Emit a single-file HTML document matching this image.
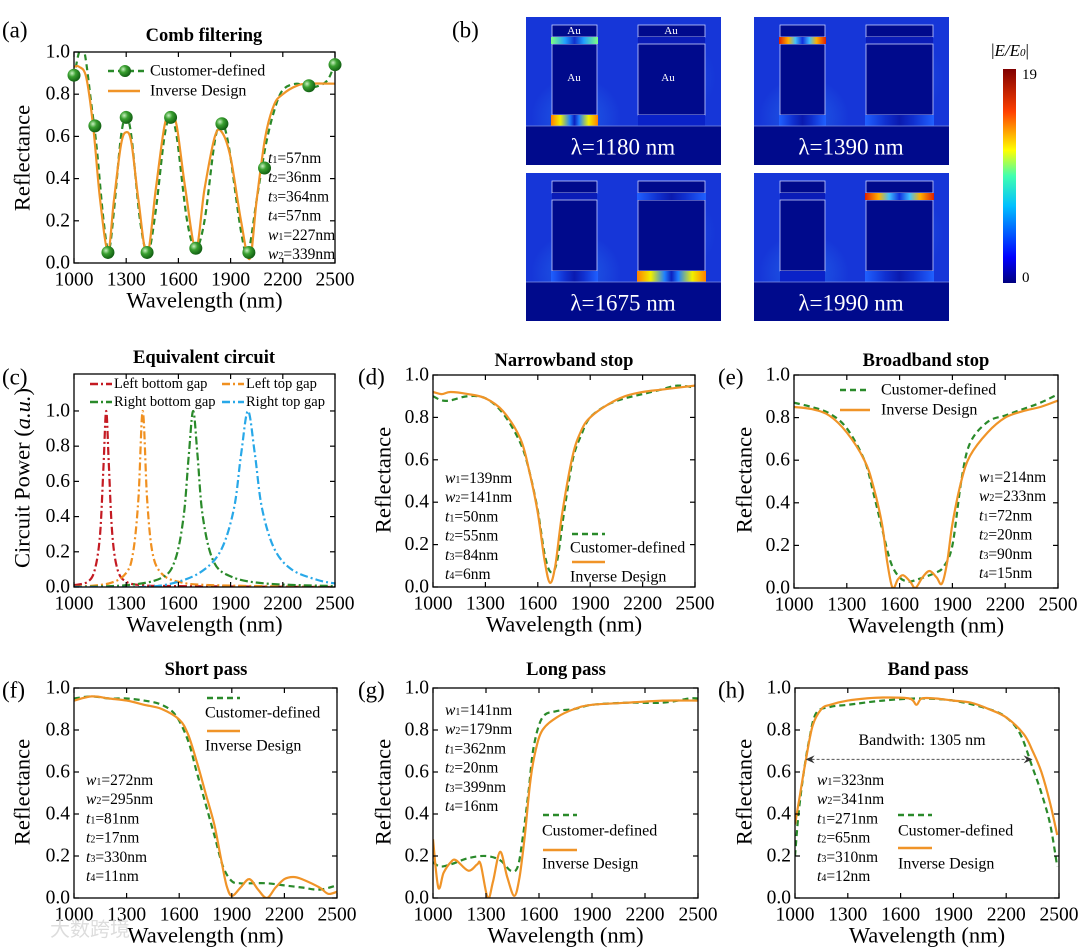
<!DOCTYPE html>
<html><head><meta charset="utf-8"><style>
html,body{margin:0;padding:0;background:#fff;}
svg{display:block;font-family:"Liberation Serif",serif;}
</style></head><body>
<svg id="fig" width="1080" height="948" viewBox="0 0 1080 948" xmlns="http://www.w3.org/2000/svg">
<defs>
<linearGradient id="jet" x1="0" y1="1" x2="0" y2="0">
<stop offset="0" stop-color="#00007f"/><stop offset="0.12" stop-color="#0000ff"/><stop offset="0.36" stop-color="#00c0ff"/><stop offset="0.5" stop-color="#40ffb0"/><stop offset="0.62" stop-color="#ffff00"/><stop offset="0.8" stop-color="#ff4000"/><stop offset="1" stop-color="#800000"/></linearGradient>
<linearGradient id="hotR" x1="0" x2="1"><stop offset="0" stop-color="#e02000"/><stop offset="0.2" stop-color="#ffb000"/><stop offset="0.35" stop-color="#40c0ff"/><stop offset="0.5" stop-color="#1030e0"/><stop offset="0.65" stop-color="#40c0ff"/><stop offset="0.8" stop-color="#ffb000"/><stop offset="1" stop-color="#e02000"/></linearGradient>
<linearGradient id="hotY" x1="0" x2="1"><stop offset="0" stop-color="#ff8000"/><stop offset="0.2" stop-color="#f0f000"/><stop offset="0.4" stop-color="#2080ff"/><stop offset="0.5" stop-color="#0a20c0"/><stop offset="0.6" stop-color="#2080ff"/><stop offset="0.8" stop-color="#f0f000"/><stop offset="1" stop-color="#ff8000"/></linearGradient>
<linearGradient id="hotC" x1="0" x2="1"><stop offset="0" stop-color="#80ff80"/><stop offset="0.3" stop-color="#20a0ff"/><stop offset="0.5" stop-color="#1030d0"/><stop offset="0.7" stop-color="#20a0ff"/><stop offset="1" stop-color="#80ff80"/></linearGradient>
<linearGradient id="weak" x1="0" x2="1"><stop offset="0" stop-color="#2060ff"/><stop offset="0.3" stop-color="#1030d0"/><stop offset="0.5" stop-color="#0a1ab0"/><stop offset="0.7" stop-color="#1030d0"/><stop offset="1" stop-color="#2060ff"/></linearGradient>
<radialGradient id="ball" cx="0.35" cy="0.35" r="0.7"><stop offset="0" stop-color="#c8f0c0"/><stop offset="0.4" stop-color="#3aa030"/><stop offset="1" stop-color="#0e5a10"/></radialGradient>
<radialGradient id="glow" cx="0.5" cy="0.5" r="0.5"><stop offset="0" stop-color="#30a0ff" stop-opacity="0.8"/><stop offset="1" stop-color="#30a0ff" stop-opacity="0"/></radialGradient>
</defs>
<g id="layer"></g>
</svg>
<script>
// ---------- Data ----------
const xTicks = [1000,1300,1600,1900,2200,2500];
const yTicks = [0,0.2,0.4,0.6,0.8,1.0];
const yTickLabels = ["0.0","0.2","0.4","0.6","0.8","1.0"];

const aInvX = [1000,1030,1070,1110,1150,1195,1230,1270,1300,1330,1370,1420,1470,1520,1555,1590,1640,1700,1750,1810,1850,1900,1960,2010,2050,2100,2150,2200,2280,2350,2500];
const aInvY = [0.93,0.93,0.88,0.65,0.3,0.06,0.3,0.56,0.62,0.57,0.3,0.04,0.35,0.65,0.71,0.65,0.35,0.07,0.35,0.6,0.62,0.5,0.2,0.02,0.3,0.6,0.75,0.8,0.84,0.85,0.85];
const aCusX = [1000,1030,1060,1100,1130,1170,1200,1230,1270,1300,1330,1380,1425,1470,1520,1555,1590,1650,1700,1750,1810,1850,1890,1960,2000,2050,2100,2150,2200,2280,2350,2450,2500];
const aCusY = [0.88,1.0,1.0,0.75,0.55,0.2,0.06,0.25,0.6,0.69,0.6,0.2,0.05,0.25,0.6,0.69,0.6,0.2,0.07,0.2,0.58,0.66,0.55,0.15,0.05,0.3,0.55,0.72,0.82,0.85,0.83,0.86,0.95];
const aMarkX = [1000,1120,1195,1300,1420,1555,1700,1850,2005,2095,2350,2500];
const aMarkY = [0.89,0.65,0.05,0.69,0.05,0.69,0.07,0.66,0.05,0.45,0.84,0.94];

const cRedX = [1000,1080,1120,1150,1170,1185,1200,1220,1250,1300,1400,1600,2500];
const cRedY = [0.01,0.03,0.1,0.3,0.7,1.0,0.7,0.3,0.1,0.03,0.01,0.005,0.0];
const cOrgX = [1000,1200,1300,1340,1370,1395,1420,1450,1500,1600,1800,2500];
const cOrgY = [0.0,0.02,0.08,0.2,0.5,1.0,0.5,0.2,0.08,0.03,0.01,0.0];
const cGrnX = [1000,1300,1500,1580,1630,1660,1685,1710,1740,1800,1900,2100,2500];
const cGrnY = [0.0,0.01,0.05,0.15,0.4,0.75,1.0,0.75,0.4,0.15,0.06,0.02,0.005];
const cBluX = [1000,1400,1600,1750,1850,1920,1960,2000,2040,2080,2150,2250,2400,2500];
const cBluY = [0.0,0.0,0.03,0.1,0.22,0.45,0.75,1.0,0.75,0.45,0.22,0.1,0.04,0.02];

const dInvX = [1000,1050,1100,1200,1300,1400,1500,1550,1600,1640,1670,1700,1740,1800,1850,1900,2000,2100,2200,2300,2400,2500];
const dInvY = [0.92,0.91,0.92,0.91,0.89,0.83,0.7,0.55,0.35,0.12,0.02,0.1,0.35,0.62,0.74,0.8,0.86,0.9,0.92,0.93,0.94,0.95];
const dCusX = [1000,1050,1100,1200,1300,1400,1500,1550,1600,1640,1675,1710,1750,1800,1850,1900,2000,2100,2200,2300,2400,2500];
const dCusY = [0.9,0.88,0.88,0.9,0.89,0.82,0.68,0.55,0.36,0.15,0.07,0.12,0.35,0.6,0.72,0.8,0.86,0.89,0.91,0.93,0.95,0.94];

const eInvX = [1000,1100,1200,1300,1400,1450,1500,1530,1560,1590,1620,1660,1690,1730,1770,1810,1840,1870,1900,1950,2000,2100,2200,2300,2400,2500];
const eInvY = [0.85,0.84,0.81,0.73,0.6,0.48,0.3,0.12,0.0,0.04,0.06,0.03,0.0,0.05,0.08,0.05,0.02,0.12,0.3,0.5,0.62,0.73,0.8,0.83,0.85,0.88];
const eCusX = [1000,1100,1200,1300,1400,1450,1500,1550,1600,1650,1700,1800,1850,1900,1950,2000,2100,2200,2300,2400,2500];
const eCusY = [0.87,0.85,0.82,0.75,0.6,0.45,0.28,0.12,0.05,0.03,0.04,0.07,0.1,0.2,0.5,0.68,0.78,0.81,0.84,0.87,0.91];

const fInvX = [1000,1100,1200,1300,1400,1500,1600,1650,1700,1750,1800,1840,1870,1900,1950,2000,2050,2100,2150,2200,2250,2300,2400,2450,2500];
const fInvY = [0.94,0.96,0.95,0.94,0.92,0.9,0.85,0.78,0.65,0.5,0.35,0.18,0.06,0.01,0.05,0.09,0.04,0.0,0.05,0.09,0.1,0.09,0.05,0.02,0.03];
const fCusX = [1000,1100,1200,1300,1400,1500,1580,1650,1700,1750,1800,1850,1900,1950,2000,2100,2200,2300,2400,2500];
const fCusY = [0.95,0.96,0.95,0.95,0.94,0.92,0.87,0.75,0.6,0.45,0.3,0.15,0.08,0.07,0.07,0.07,0.06,0.05,0.04,0.06];

const gInvX = [1000,1030,1060,1100,1130,1200,1250,1270,1310,1340,1380,1420,1460,1490,1520,1550,1580,1620,1700,1800,1900,2100,2300,2500];
const gInvY = [0.28,0.05,0.12,0.17,0.18,0.13,0.16,0.16,0.0,0.08,0.22,0.1,0.01,0.1,0.3,0.55,0.7,0.8,0.86,0.9,0.92,0.93,0.94,0.94];
const gCusX = [1000,1040,1100,1200,1300,1380,1440,1480,1510,1540,1570,1620,1700,1800,1900,2100,2300,2450,2500];
const gCusY = [0.17,0.15,0.16,0.19,0.2,0.18,0.13,0.15,0.3,0.5,0.72,0.86,0.89,0.9,0.92,0.93,0.93,0.95,0.95];

const hInvX = [1000,1030,1060,1100,1150,1200,1300,1400,1500,1650,1690,1720,1800,1900,2000,2100,2200,2300,2350,2400,2450,2490];
const hInvY = [0.35,0.5,0.65,0.82,0.9,0.92,0.94,0.95,0.955,0.95,0.92,0.95,0.95,0.94,0.93,0.9,0.86,0.78,0.7,0.6,0.45,0.3];
const hCusX = [1000,1020,1050,1080,1120,1200,1300,1500,1700,1900,2100,2200,2280,2350,2400,2450,2490];
const hCusY = [0.2,0.4,0.6,0.75,0.88,0.91,0.92,0.94,0.95,0.94,0.9,0.86,0.78,0.62,0.5,0.35,0.15];
const hBandX = [1060,2350];
const hBandY = 0.66;

const cbTicks = ["0","19"];

// ---------- Helpers ----------
const NS = "http://www.w3.org/2000/svg";
const root = document.getElementById('layer');
function mk(tag, attrs, parent){
  const e = document.createElementNS(NS, tag);
  for (const k in attrs) e.setAttribute(k, attrs[k]);
  (parent||root).appendChild(e);
  return e;
}
function txt(s, x, y, size, opts, parent){
  opts = opts||{};
  const t = mk('text', {x:x, y:y, 'font-size':size, fill:opts.fill||'#000', 'text-anchor':opts.anchor||'start', 'dominant-baseline':'central'}, parent);
  if (opts.weight) t.setAttribute('font-weight', opts.weight);
  if (opts.rot) t.setAttribute('transform', 'rotate(-90 '+x+' '+y+')');
  t.textContent = s;
  return t;
}
function spline(pts){
  let d = 'M'+pts[0][0].toFixed(1)+','+pts[0][1].toFixed(1);
  for (let i=0;i<pts.length-1;i++){
    const p0=pts[Math.max(0,i-1)], p1=pts[i], p2=pts[i+1], p3=pts[Math.min(pts.length-1,i+2)];
    const c1x=p1[0]+(p2[0]-p0[0])/6, c1y=p1[1]+(p2[1]-p0[1])/6;
    const c2x=p2[0]-(p3[0]-p1[0])/6, c2y=p2[1]-(p3[1]-p1[1])/6;
    d += ' C'+c1x.toFixed(1)+','+c1y.toFixed(1)+' '+c2x.toFixed(1)+','+c2y.toFixed(1)+' '+p2[0].toFixed(1)+','+p2[1].toFixed(1);
  }
  return d;
}
function makeAxes(name, x0, x1, yt, yb, ymax){
  const g = mk('g', {});
  
  
  const sx = v => x0 + (v-1000)/1500*(x1-x0);
  const sy = v => yb - v/ymax*(yb-yt);
  const clip = 'clip-'+name;
  const cp = mk('clipPath', {id:clip}, g);
  mk('rect', {x:x0, y:yt, width:x1-x0, height:yb-yt}, cp);
  const plot = mk('g', {'clip-path':'url(#'+clip+')'}, g);
  
  
  const frame = mk('rect', {x:x0, y:yt, width:x1-x0, height:yb-yt, fill:'none', stroke:'#000', 'stroke-width':1.3}, g);
  
  
  xTicks.forEach(v=>{
    const x = sx(v);
    mk('line', {x1:x, x2:x, y1:yb, y2:yb-5, stroke:'#000', 'stroke-width':1.2}, g);
    mk('line', {x1:x, x2:x, y1:yt, y2:yt+5, stroke:'#000', 'stroke-width':1.2}, g);
    const t = txt(String(v), x, yb+17, 19.5, {anchor:'middle'}, g);
    
    
  });
  yTicks.forEach((v,i)=>{
    const y = sy(v);
    mk('line', {x1:x0, x2:x0+5, y1:y, y2:y, stroke:'#000', 'stroke-width':1.2}, g);
    mk('line', {x1:x1, x2:x1-5, y1:y, y2:y, stroke:'#000', 'stroke-width':1.2}, g);
    const t = txt(yTickLabels[i], x0-4, y, 19.5, {anchor:'end'}, g);
    
    
  });
  const xt = txt('Wavelength (nm)', (x0+x1)/2, yb+37, 22.5, {anchor:'middle'}, g);
  
  
  return {g, plot, sx, sy, x0, x1, yt, yb};
}
function series(ax, xs, ys, style, name){
  const pts = xs.map((v,i)=>[ax.sx(v), ax.sy(ys[i])]);
  const p = mk('path', {d:spline(pts), fill:'none', stroke:style.color, 'stroke-width':style.w||2.2, 'stroke-linejoin':'round'}, ax.plot);
  if (style.dash) p.setAttribute('stroke-dasharray', style.dash);
  
  
  return p;
}
const GREEN = '#2a8a2a', ORANGE = '#f09428';
function legendLine(x1, x2, y, color, dash, name){
  const l = mk('line', {x1:x1, x2:x2, y1:y, y2:y, stroke:color, 'stroke-width':2.4});
  if (dash) l.setAttribute('stroke-dasharray', dash);
  
  
}
function label(s, x, y, size, opts, name){
  const t = txt(s, x, y, size, opts);
  
  
  return t;
}
function params(list, x, y0, step){
  list.forEach((p,i)=>{
    const t = mk('text', {x:x, y:y0+i*step, 'font-size':15.5, 'dominant-baseline':'central'});
    
    
    const a = mk('tspan', {'font-style':'italic'}, t); a.textContent = p[0];
    const b = mk('tspan', {'font-size':10, dy:2}, t); b.textContent = p[1];
    const c = mk('tspan', {dy:-2}, t); c.textContent = '='+p[2];
  });
}
function ylabel(s, x, y, name){ return label(s, x, y, 22.5, {anchor:'middle', rot:true}, name); }

// ---------- Panel (a) ----------
label('(a)', 2, 30, 23, {}, 'panel-label-a');
label('Comb filtering', 204, 36, 18.5, {anchor:'middle', weight:'bold'}, 'title-comb-filtering');
const A = makeAxes('chart-a', 74, 335, 52, 263, 1.0);
ylabel('Reflectance', 22, 158, 'y-axis-title-a');
series(A, aCusX, aCusY, {color:GREEN, dash:'6,4', w:2.2}, 'series-a-customer');
series(A, aInvX, aInvY, {color:ORANGE, w:2.2}, 'series-a-inverse');
aMarkX.forEach((v,i)=>{
  const c = mk('circle', {cx:A.sx(v), cy:A.sy(aMarkY[i]), r:6.5, fill:'url(#ball)'});
  
  
});
legendLine(108, 148, 71, GREEN, '6,4', 'legend-line-customer-a');
{ const c = mk('circle', {cx:125, cy:71, r:6, fill:'url(#ball)'});   }
label('Customer-defined', 150, 71, 16, {}, 'legend-text-customer-a');
legendLine(108, 140, 91, ORANGE, null, 'legend-line-inverse-a');
label('Inverse Design', 150, 91, 16, {}, 'legend-text-inverse-a');
params([['t','1','57nm'],['t','2','36nm'],['t','3','364nm'],['t','4','57nm'],['w','1','227nm'],['w','2','339nm']], 268, 158, 19.2);

// ---------- Panel (b) heatmaps ----------
label('(b)', 452, 30, 23, {}, 'panel-label-b');
const maps = [
  {x:526, y:17, lab:'λ=1180 nm', hot:[[0,'bot','hotY'],[0,'top','hotC']]},
  {x:754, y:17, lab:'λ=1390 nm', hot:[[0,'top','hotR'],[0,'bot','weak'],[1,'bot','weak']]},
  {x:526, y:173, lab:'λ=1675 nm', hot:[[1,'bot','hotY'],[0,'bot','weak'],[1,'top','weak']]},
  {x:754, y:173, lab:'λ=1990 nm', hot:[[1,'top','hotR'],[1,'bot','weak']]}
];
maps.forEach((m,k)=>{
  const g = mk('g', {});
  
  
  mk('rect', {x:m.x, y:m.y, width:195, height:148, fill:'#1636d8'}, g);
  mk('ellipse', {cx:m.x+50, cy:m.y+100, rx:45, ry:40, fill:'url(#glow)', opacity:0.5}, g);
  mk('ellipse', {cx:m.x+150, cy:m.y+60, rx:40, ry:40, fill:'url(#glow)', opacity:0.3}, g);
  const pill = [[m.x+26, 45],[m.x+112, 67]];
  pill.forEach((p,i)=>{
    mk('rect', {x:p[0], y:m.y+8, width:p[1], height:12, fill:'#000a8c', stroke:'#c8d0ff', 'stroke-width':0.8}, g);
    mk('rect', {x:p[0], y:m.y+20, width:p[1], height:7, fill:'#0a1cb8'}, g);
    mk('rect', {x:p[0], y:m.y+27, width:p[1], height:71, fill:'#000a8c', stroke:'#c8d0ff', 'stroke-width':0.8}, g);
    mk('rect', {x:p[0], y:m.y+98, width:p[1], height:11, fill:'#0a22c8'}, g);
  });
  m.hot.forEach(h=>{
    const p = pill[h[0]];
    const yy = h[1]==='top' ? m.y+20 : m.y+98;
    const hh = h[1]==='top' ? 7 : 11;
    mk('rect', {x:p[0]-1, y:yy, width:p[1]+2, height:hh, fill:'url(#'+h[2]+')'}, g);
  });
  mk('rect', {x:m.x, y:m.y+109, width:195, height:39, fill:'#000a8c'}, g);
  mk('line', {x1:m.x, x2:m.x+195, y1:m.y+109, y2:m.y+109, stroke:'#8090e0', 'stroke-width':0.7}, g);
  if (k===0){
    label('Au', m.x+48, m.y+14, 11, {anchor:'middle', fill:'#fff'}, 'material-label');
    label('Au', m.x+145, m.y+14, 11, {anchor:'middle', fill:'#fff'}, 'material-label');
    label('Au', m.x+48, m.y+61, 11, {anchor:'middle', fill:'#fff'}, 'material-label');
    label('Au', m.x+142, m.y+61, 11, {anchor:'middle', fill:'#fff'}, 'material-label');
  }
  label(m.lab, m.x+97, m.y+130, 23, {anchor:'middle', fill:'#fff'}, 'wavelength-label-'+(k+1));
});
{ const cb = mk('rect', {x:1003, y:69, width:13, height:214, fill:'url(#jet)'});   }
label('|E/E0|', 1010, 50, 17, {anchor:'middle'}, 'colorbar-title').innerHTML = '|<tspan font-style="italic">E/E</tspan><tspan font-style="italic" font-size="11" dy="3">0</tspan><tspan dy="-3">|</tspan>';
label(cbTicks[1], 1022, 75, 15, {}, 'colorbar-max-label');
label(cbTicks[0], 1022, 278, 15, {}, 'colorbar-min-label');

// ---------- Panel (c) ----------
label('(c)', 2, 377, 23, {}, 'panel-label-c');
label('Equivalent circuit', 204, 358, 18.5, {anchor:'middle', weight:'bold'}, 'title-equivalent-circuit');
const C = makeAxes('chart-c', 74, 335, 374, 587, 1.21);
ylabel('Circuit Power (a.u.)', 22, 478, 'y-axis-title-c').innerHTML = 'Circuit Power (<tspan font-style="italic">a.u.</tspan>)';
const DD = '8,3,2,3';
series(C, cRedX, cRedY, {color:'#c41a22', dash:DD}, 'series-left-bottom-gap');
series(C, cOrgX, cOrgY, {color:'#f09020', dash:DD}, 'series-left-top-gap');
series(C, cGrnX, cGrnY, {color:'#2a8a2a', dash:DD}, 'series-right-bottom-gap');
series(C, cBluX, cBluY, {color:'#28a8e8', dash:DD}, 'series-right-top-gap');
legendLine(90, 112, 384, '#c41a22', DD, 'legend-line-left-bottom');
label('Left bottom gap', 114, 384, 14.5, {}, 'legend-text-left-bottom');
legendLine(222, 244, 384, '#f09020', DD, 'legend-line-left-top');
label('Left top gap', 246, 384, 14.5, {}, 'legend-text-left-top');
legendLine(90, 112, 402, '#2a8a2a', DD, 'legend-line-right-bottom');
label('Right bottom gap', 114, 402, 14.5, {}, 'legend-text-right-bottom');
legendLine(222, 244, 402, '#28a8e8', DD, 'legend-line-right-top');
label('Right top gap', 246, 402, 14.5, {}, 'legend-text-right-top');

// ---------- Panel (d) ----------
label('(d)', 358, 377, 23, {}, 'panel-label-d');
label('Narrowband stop', 564, 361, 18.5, {anchor:'middle', weight:'bold'}, 'title-narrowband-stop');
const D = makeAxes('chart-d', 433, 695, 375, 587, 1.0);
ylabel('Reflectance', 383, 480, 'y-axis-title-d');
series(D, dCusX, dCusY, {color:GREEN, dash:'6,4'}, 'series-d-customer');
series(D, dInvX, dInvY, {color:ORANGE}, 'series-d-inverse');
params([['w','1','139nm'],['w','2','141nm'],['t','1','50nm'],['t','2','55nm'],['t','3','84nm'],['t','4','6nm']], 445, 478, 19.2);
legendLine(572, 605, 534, GREEN, '6,4', 'legend-line-customer-d');
label('Customer-defined', 570, 548, 16, {}, 'legend-text-customer-d');
legendLine(572, 605, 562, ORANGE, null, 'legend-line-inverse-d');
label('Inverse Design', 570, 577, 16, {}, 'legend-text-inverse-d');

// ---------- Panel (e) ----------
label('(e)', 718, 377, 23, {}, 'panel-label-e');
label('Broadband stop', 926, 361, 18.5, {anchor:'middle', weight:'bold'}, 'title-broadband-stop');
const E = makeAxes('chart-e', 794, 1058, 375, 588, 1.0);
ylabel('Reflectance', 744, 480, 'y-axis-title-e');
series(E, eCusX, eCusY, {color:GREEN, dash:'6,4'}, 'series-e-customer');
series(E, eInvX, eInvY, {color:ORANGE}, 'series-e-inverse');
legendLine(840, 870, 390, GREEN, '6,4', 'legend-line-customer-e');
label('Customer-defined', 881, 390, 16, {}, 'legend-text-customer-e');
legendLine(840, 870, 410, ORANGE, null, 'legend-line-inverse-e');
label('Inverse Design', 881, 410, 16, {}, 'legend-text-inverse-e');
params([['w','1','214nm'],['w','2','233nm'],['t','1','72nm'],['t','2','20nm'],['t','3','90nm'],['t','4','15nm']], 979, 477, 19.2);

// ---------- Panel (f) ----------
label('(f)', 2, 690, 23, {}, 'panel-label-f');
label('Short pass', 206, 670, 18.5, {anchor:'middle', weight:'bold'}, 'title-short-pass');
const F = makeAxes('chart-f', 74, 337, 688, 898, 1.0);
ylabel('Reflectance', 22, 792, 'y-axis-title-f');
series(F, fCusX, fCusY, {color:GREEN, dash:'6,4'}, 'series-f-customer');
series(F, fInvX, fInvY, {color:ORANGE}, 'series-f-inverse');
legendLine(207, 240, 698, GREEN, '6,4', 'legend-line-customer-f');
label('Customer-defined', 205, 713, 16, {}, 'legend-text-customer-f');
legendLine(207, 240, 731, ORANGE, null, 'legend-line-inverse-f');
label('Inverse Design', 205, 746, 16, {}, 'legend-text-inverse-f');
params([['w','1','272nm'],['w','2','295nm'],['t','1','81nm'],['t','2','17nm'],['t','3','330nm'],['t','4','11nm']], 86, 780, 19.2);

// ---------- Panel (g) ----------
label('(g)', 358, 690, 23, {}, 'panel-label-g');
label('Long pass', 566, 670, 18.5, {anchor:'middle', weight:'bold'}, 'title-long-pass');
const G = makeAxes('chart-g', 433, 698, 688, 898, 1.0);
ylabel('Reflectance', 383, 792, 'y-axis-title-g');
series(G, gCusX, gCusY, {color:GREEN, dash:'6,4'}, 'series-g-customer');
series(G, gInvX, gInvY, {color:ORANGE}, 'series-g-inverse');
params([['w','1','141nm'],['w','2','179nm'],['t','1','362nm'],['t','2','20nm'],['t','3','399nm'],['t','4','16nm']], 445, 710, 19.2);
legendLine(543, 577, 815, GREEN, '6,4', 'legend-line-customer-g');
label('Customer-defined', 542, 831, 16, {}, 'legend-text-customer-g');
legendLine(543, 577, 850, ORANGE, null, 'legend-line-inverse-g');
label('Inverse Design', 542, 864, 16, {}, 'legend-text-inverse-g');

// ---------- Panel (h) ----------
label('(h)', 718, 690, 23, {}, 'panel-label-h');
label('Band pass', 928, 670, 18.5, {anchor:'middle', weight:'bold'}, 'title-band-pass');
const H = makeAxes('chart-h', 795, 1059, 688, 898, 1.0);
ylabel('Reflectance', 744, 792, 'y-axis-title-h');
series(H, hCusX, hCusY, {color:GREEN, dash:'6,4'}, 'series-h-customer');
series(H, hInvX, hInvY, {color:ORANGE}, 'series-h-inverse');
{
  const y = H.sy(hBandY), xa = H.sx(hBandX[0]), xb = H.sx(hBandX[1]);
  const l = mk('line', {x1:xa+6, x2:xb-6, y1:y, y2:y, stroke:'#555', 'stroke-width':1, 'stroke-dasharray':'3,2'});
  
  
  const a1 = mk('path', {d:'M'+xa+','+y+' l9,-4 l-3,4 l3,4 z', fill:'#333'});
  
  
  const a2 = mk('path', {d:'M'+xb+','+y+' l-9,-4 l3,4 l-3,4 z', fill:'#333'});
  
  
  label('Bandwith: 1305 nm', 922, H.sy(0.75), 16, {anchor:'middle'}, 'bandwidth-label');
}
params([['w','1','323nm'],['w','2','341nm'],['t','1','271nm'],['t','2','65nm'],['t','3','310nm'],['t','4','12nm']], 817, 780, 19.2);
legendLine(898, 932, 815, GREEN, '6,4', 'legend-line-customer-h');
label('Customer-defined', 898, 831, 16, {}, 'legend-text-customer-h');
legendLine(898, 932, 848, ORANGE, null, 'legend-line-inverse-h');
label('Inverse Design', 898, 864, 16, {}, 'legend-text-inverse-h');

label('大数跨境', 50, 930, 20, {fill:'#ddd'}, 'watermark');
</script>
</body></html>
